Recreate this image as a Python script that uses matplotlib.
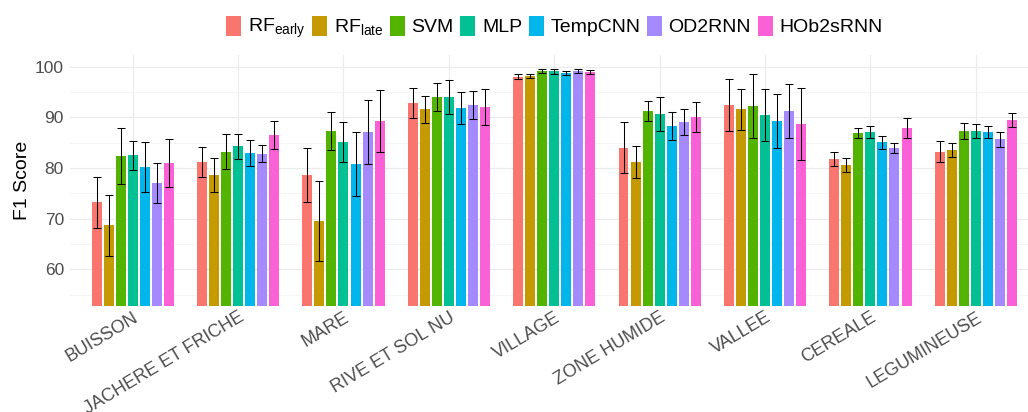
import numpy as np
import matplotlib
matplotlib.use("Agg")
import matplotlib.pyplot as plt
import matplotlib.transforms as mtransforms

plt.rcParams["font.family"] = ["Liberation Sans", "DejaVu Sans"]
plt.rcParams["mathtext.fontset"] = "custom"
plt.rcParams["mathtext.rm"] = "Liberation Sans"
plt.rcParams["mathtext.it"] = "Liberation Sans:italic"

categories = ["BUISSON", "JACHERE ET FRICHE", "MARE", "RIVE ET SOL NU", "VILLAGE",
              "ZONE HUMIDE", "VALLEE", "CEREALE", "LEGUMINEUSE"]
models = [r"RF$_{\mathrm{early}}$", r"RF$_{\mathrm{late}}$", "SVM", "MLP", "TempCNN", "OD2RNN", "HOb2sRNN"]
colors = ["#F8766D", "#C49A00", "#53B400", "#00C094", "#00B6EB", "#A58AFF", "#FB61D7"]

rf_early = [73.2, 81.2, 78.6, 92.8, 98.0, 84.0, 92.5, 81.8, 83.2]
rf_early_sd = [5.1, 3.0, 5.4, 3.0, 0.5, 5.0, 5.1, 1.45, 2.05]
rf_late = [68.7, 78.6, 69.5, 91.6, 98.2, 81.2, 91.6, 80.6, 83.5]
rf_late_sd = [6.0, 3.35, 7.9, 2.7, 0.4, 3.1, 4.0, 1.45, 1.35]
svm = [82.4, 83.2, 87.3, 94.0, 99.15, 91.25, 92.25, 86.85, 87.3]
svm_sd = [5.6, 3.45, 3.7, 2.8, 0.3, 1.9, 6.35, 1.0, 1.55]
mlp = [82.5, 84.3, 85.1, 94.0, 99.1, 90.65, 90.45, 87.1, 87.3]
mlp_sd = [2.85, 2.45, 3.9, 3.3, 0.45, 3.3, 5.15, 1.2, 1.35]
tempcnn = [80.2, 83.0, 80.8, 91.85, 98.75, 88.3, 89.3, 85.1, 87.1]
tempcnn_sd = [5.0, 2.55, 6.4, 3.1, 0.45, 2.8, 5.35, 1.25, 1.1]
od2rnn = [77.0, 82.8, 87.1, 92.4, 99.15, 89.1, 91.25, 83.95, 85.7]
od2rnn_sd = [3.9, 1.65, 6.35, 2.8, 0.4, 2.6, 5.3, 1.0, 1.5]
hob2srnn = [81.0, 86.5, 89.3, 92.05, 98.95, 90.1, 88.7, 87.9, 89.5]
hob2srnn_sd = [4.65, 2.7, 6.1, 3.6, 0.4, 3.0, 7.1, 1.9, 1.45]

means = [rf_early, rf_late, svm, mlp, tempcnn, od2rnn, hob2srnn]
sds = [rf_early_sd, rf_late_sd, svm_sd, mlp_sd, tempcnn_sd, od2rnn_sd, hob2srnn_sd]

fig = plt.figure(figsize=(10.28, 4.12), dpi=100)
# panel runs a bit past the right edge, like the cropped original
ax = fig.add_axes([69.5 / 1028, 1 - 306.1 / 412, (1039 - 69.5) / 1028, (306.1 - 55.3) / 412])

x = np.arange(len(categories))
pitch = 0.8 / len(models)
handles = []
for i, (m, s, c, lab) in enumerate(zip(means, sds, colors, models)):
    pos = x - 0.4 + pitch * (i + 0.5)
    b = ax.bar(pos, np.array(m) - 52.75, bottom=52.75, width=pitch * 0.83, color=c, label=lab, zorder=2)
    ax.errorbar(pos, m, yerr=s, fmt="none", ecolor="black", elinewidth=0.75,
                capsize=3.2, capthick=0.75, zorder=3)
    handles.append(b)

ax.set_xlim(-0.6, len(categories) - 0.4)
ax.set_ylim(52.75, 102.25)
ax.set_yticks([60, 70, 80, 90, 100])
ax.set_yticks([55, 65, 75, 85, 95], minor=True)
ax.set_xticks(x)
ax.set_xticklabels(categories, rotation=31, ha="right", va="top", rotation_mode="anchor",
                   fontsize=13, color="#4D4D4D")
offset = mtransforms.ScaledTranslation(5 / 100, 0, fig.dpi_scale_trans)
for lbl in ax.get_xticklabels():
    lbl.set_transform(lbl.get_transform() + offset)
ax.tick_params(axis="both", which="both", length=0)
ax.tick_params(axis="x", pad=2)
ax.tick_params(axis="y", pad=4, labelsize=12.5, labelcolor="#4D4D4D")

ax.grid(which="major", color="#EBEBEB", linewidth=0.8, zorder=0)
ax.grid(which="minor", axis="y", color="#F2F2F2", linewidth=0.5, zorder=0)
ax.set_axisbelow(True)
for sp in ax.spines.values():
    sp.set_visible(False)

ax.set_ylabel("F1 Score", fontsize=14, color="black", labelpad=3)

ax.legend(handles=handles, loc="center", bbox_to_anchor=(0.5, 1.108), ncol=7, frameon=False,
          fontsize=14, handlelength=0.77, handleheight=1.19, handletextpad=0.34,
          columnspacing=0.34, borderaxespad=0, borderpad=0)

fig.savefig("out.png", dpi=100)
